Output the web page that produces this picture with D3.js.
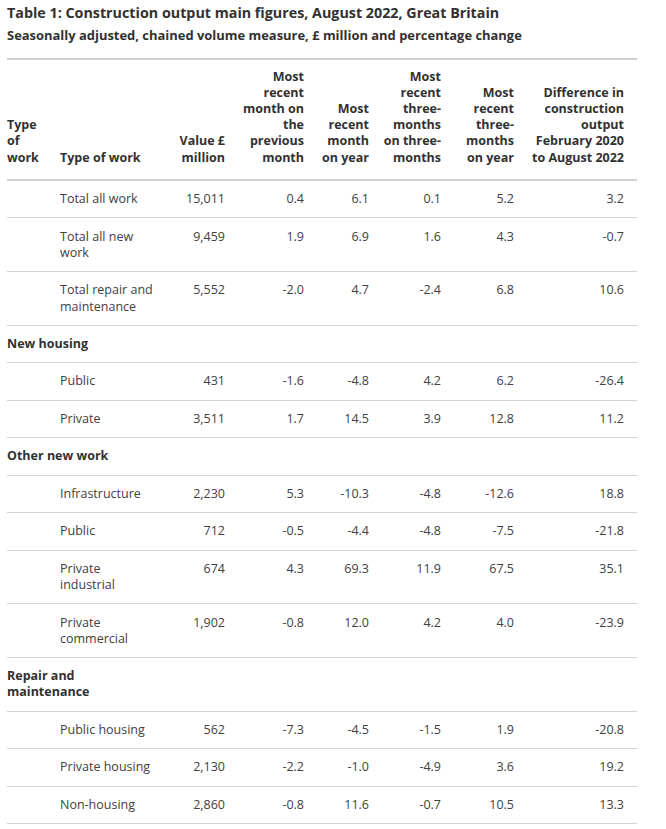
<!DOCTYPE html>
<html>
<head>
<meta charset="utf-8">
<script src="https://cdn.jsdelivr.net/npm/d3@7/dist/d3.min.js"></script>
<style>
  html, body { margin: 0; padding: 0; background: #fff; }
  body { font-family: "Open Sans", sans-serif; color: #414042; width: 666px; height: 829px; overflow: hidden; }
  #wrap { position: absolute; left: 7px; top: 0; width: 630px; }
  .title { font-weight: 700; font-size: 14.3px; color: #323132; margin: 3px 0 0 0; line-height: 20px; }
  .subtitle { font-weight: 700; font-size: 12.95px; color: #323132; margin: 2px 0 0 0; line-height: 20px; }
  table { border-collapse: collapse; table-layout: fixed; width: 630px; margin-top: 13px; font-size: 12.5px; line-height: 16.2px; }
  thead th { font-weight: 700; color: #323132; vertical-align: bottom; padding: 8.6px 13px 13.2px 0; border-top: 2px solid #d0d0d0; border-bottom: 2px solid #d0d0d0; }
  td { vertical-align: top; padding: 10.15px 13px 10.15px 0; border-bottom: 1px solid #d3d3d3; }
  .l { text-align: left; }
  .r { text-align: right; }
  td.sec { font-weight: 700; color: #323132; }
  td.sec div { width: 120px; }
</style>
</head>
<body>
<div id="wrap"></div>
<script>
// ---- data ----
const titleText = "Table 1: Construction output main figures, August 2022, Great Britain";
const subtitleText = "Seasonally adjusted, chained volume measure, £ million and percentage change";
const headers = [
  "Type of work",
  "Type of work",
  "Value £ million",
  "Most recent month on the previous month",
  "Most recent month on year",
  "Most recent three-months on three-months",
  "Most recent three-months on year",
  "Difference in construction output February 2020 to August 2022"
];
const sections = ["", "New housing", "Other new work", "Repair and maintenance"];
const workTypes = ["Total all work", "Total all new work", "Total repair and maintenance",
  "Public", "Private",
  "Infrastructure", "Public", "Private industrial", "Private commercial",
  "Public housing", "Private housing", "Non-housing"];
const workSection = [0, 0, 0, 1, 1, 2, 2, 2, 2, 3, 3, 3];
const valueMillion = [15011, 9459, 5552, 431, 3511, 2230, 712, 674, 1902, 562, 2130, 2860];
const monthOnMonth = [0.4, 1.9, -2.0, -1.6, 1.7, 5.3, -0.5, 4.3, -0.8, -7.3, -2.2, -0.8];
const monthOnYear = [6.1, 6.9, 4.7, -4.8, 14.5, -10.3, -4.4, 69.3, 12.0, -4.5, -1.0, 11.6];
const threeOnThree = [0.1, 1.6, -2.4, 4.2, 3.9, -4.8, -4.8, 11.9, 4.2, -1.5, -4.9, -0.7];
const threeOnYear = [5.2, 4.3, 6.8, 6.2, 12.8, -12.6, -7.5, 67.5, 4.0, 1.9, 3.6, 10.5];
const diffFeb2020 = [3.2, -0.7, 10.6, -26.4, 11.2, 18.8, -21.8, 35.1, -23.9, -20.8, 19.2, 13.3];

// ---- build ----
const loc = d3.formatLocale({decimal: ".", thousands: ",", grouping: [3], currency: ["£", ""], minus: "-"});
const fInt = loc.format(",d");
const fPct = loc.format(".1f");
const colWidths = [53, 109, 69, 79, 65, 72, 73, 110];

const wrap = d3.select("#wrap");
wrap.append("div").attr("class", "title").text(titleText);
wrap.append("div").attr("class", "subtitle").text(subtitleText);

const table = wrap.append("table");
table.append("colgroup").selectAll("col").data(colWidths).join("col").style("width", d => d + "px");
table.append("thead").append("tr").selectAll("th").data(headers).join("th")
  .attr("class", (d, i) => i < 2 ? "l" : "r")
  .text(d => d);

// assemble rows: section headers interleaved with items
const rows = [];
workTypes.forEach((w, i) => {
  const s = workSection[i];
  if (s > 0 && (i === 0 || workSection[i - 1] !== s)) rows.push({type: "sec", label: sections[s]});
  rows.push({type: "item", cells: ["", w, fInt(valueMillion[i]), fPct(monthOnMonth[i]), fPct(monthOnYear[i]),
    fPct(threeOnThree[i]), fPct(threeOnYear[i]), fPct(diffFeb2020[i])]});
});

const tbody = table.append("tbody");
const tr = tbody.selectAll("tr").data(rows).join("tr");
tr.filter(d => d.type === "sec").append("td").attr("colspan", 8).attr("class", "sec l")
  .append("div").text(d => d.label);
tr.filter(d => d.type === "item").selectAll("td").data(d => d.cells).join("td")
  .attr("class", (d, i) => i < 2 ? "l" : "r")
  .text(d => d);
</script>
</body>
</html>
